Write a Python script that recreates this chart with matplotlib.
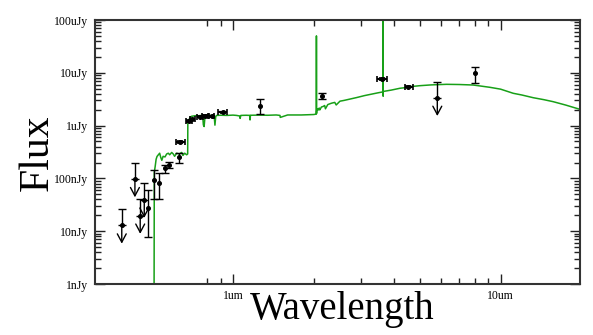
import numpy as np
import matplotlib.pyplot as plt
from matplotlib.ticker import FixedLocator, NullFormatter

plt.rcParams['font.family'] = ['Liberation Serif', 'DejaVu Serif']

# model spectrum (um, nJy)
model_wl = [0.507, 0.508, 0.512, 0.516, 0.520, 0.526, 0.532, 0.537, 0.542, 0.548,
            0.557, 0.565, 0.573, 0.580, 0.590, 0.598, 0.605, 0.616, 0.630, 0.643,
            0.650, 0.660, 0.671, 0.677, 0.678, 0.685, 0.692, 0.700, 0.711, 0.725,
            0.740, 0.755, 0.770, 0.775, 0.780, 0.786, 0.792, 0.810, 0.830, 0.850,
            0.856, 0.862, 0.870, 0.900, 0.950, 1.000, 1.030, 1.060, 1.063, 1.070,
            1.120, 1.155, 1.158, 1.162, 1.250, 1.350, 1.450, 1.498, 1.502, 1.600,
            1.800, 2.000, 2.048, 2.050, 2.052, 2.054, 2.060, 2.075, 2.080, 2.100,
            2.110, 2.140, 2.170, 2.200, 2.215, 2.260, 2.330, 2.400, 2.430, 2.510,
            2.600, 2.900, 3.100, 3.340, 3.500, 3.636, 3.638, 3.640, 3.642, 3.660,
            3.900, 4.210, 4.500, 4.520, 4.600, 4.650, 4.990, 5.500, 6.280, 7.000,
            7.900, 9.120, 10.00, 11.15, 12.00, 13.24, 14.50, 15.71, 17.50, 20.00]
model_fx = [0.5, 130, 170, 230, 260, 280, 300, 250, 220, 262,
            255, 290, 300, 280, 310, 290, 262, 300, 290, 310,
            272, 300, 280, 290, 1180, 1300, 1440, 1500, 1520, 1540,
            1530, 1550, 1560, 1030, 960, 1500, 1560, 1580, 1550, 1560,
            1020, 1500, 1560, 1570, 1560, 1580, 1560, 1520, 1370, 1560,
            1570, 1560, 1280, 1570, 1580, 1570, 1590, 1560, 1430, 1590,
            1590, 1620, 1650, 50000, 1700, 1900, 2050, 2080, 1970, 2150,
            1980, 2250, 2300, 2400, 2080, 2500, 2650, 2750, 2460, 2900,
            3000, 3400, 3700, 4000, 4200, 4350, 200000, 3600, 4400, 4450,
            4700, 5100, 5300, 5000, 5450, 5500, 5700, 5900, 6050, 6000,
            5870, 5310, 4900, 4090, 3800, 3375, 3100, 2840, 2450, 2000]

# photometry with error bars (um, nJy)
det_wl = [0.483, 0.508, 0.531, 0.555, 0.578, 0.628, 1.262, 2.156, 8.02]
det_fx = [28, 93, 83, 154, 183, 249, 2350, 3636, 10050]
det_lo = [7.9, 40, 40, 125, 160, 193, 1637, 3150, 6320]
det_hi = [60, 144, 125, 179, 205, 299, 3150, 4200, 13050]

# photometry with filter widths (um, nJy)
band_wl = [0.634, 0.685, 0.705, 0.753, 0.786, 0.833, 0.920, 3.61, 4.52]
band_fx = [489, 1222, 1316, 1475, 1520, 1500, 1786, 7640, 5460]
band_lo = [0.611, 0.665, 0.690, 0.735, 0.768, 0.815, 0.880, 3.46, 4.39]
band_hi = [0.661, 0.705, 0.722, 0.772, 0.805, 0.852, 0.947, 3.77, 4.69]

# upper limits (um, nJy, top of bar)
ul_wl = [0.384, 0.430, 0.450, 0.466, 5.80]
ul_fx = [12.9, 97.4, 19.8, 39.8, 3374]
ul_top = [26.0, 193, 40, 83, 6790]

ytick_vals = [1, 10, 100, 1e3, 1e4, 1e5]
ytick_labels = ['1nJy', '10nJy', '100nJy', '1uJy', '10uJy', '100uJy']
xtick_vals = [1, 10]
xtick_labels = ['1um', '10um']
xminor = [0.8, 0.9, 2, 3, 4, 5, 6, 7, 8, 9]

fig = plt.figure(figsize=(5.93, 3.35), dpi=100)
ax = fig.add_axes([95/593, 1-284/335, 485/593, 264/335])
ax.set_xscale('log')
ax.set_yscale('log')

ax.plot(model_wl, model_fx, color='#18a018', lw=1.1, zorder=2)

det_wl = np.array(det_wl); det_fx = np.array(det_fx)
yerr = [det_fx - np.array(det_lo), np.array(det_hi) - det_fx]
ax.errorbar(det_wl, det_fx, yerr=yerr, fmt='o', color='black', ms=2.6,
            elinewidth=1.0, capsize=3.2, capthick=1.0, zorder=3)

band_wl = np.array(band_wl)
xerr = [band_wl - np.array(band_lo), np.array(band_hi) - band_wl]
ax.errorbar(band_wl, band_fx, xerr=xerr, yerr=np.array(band_fx)*0.03, fmt='o',
            color='black', ms=2.6, elinewidth=1.6, capsize=2.2, capthick=1.2, zorder=3)

ul_wl = np.array(ul_wl); ul_fx = np.array(ul_fx)
ax.errorbar(ul_wl, ul_fx, yerr=[np.zeros(len(ul_fx)), np.array(ul_top) - ul_fx],
            fmt='o', color='black', ms=2.6, elinewidth=1.0, capsize=3.2, capthick=1.0, zorder=3)
for w, f in zip(ul_wl, ul_fx):
    ax.annotate('', xy=(w, f*0.45), xytext=(w, f),
                arrowprops=dict(arrowstyle='->,head_length=0.6,head_width=0.32',
                                color='black', lw=1.0, shrinkA=0, shrinkB=0))

ax.set_xlim(0.305, 19.8)
ax.set_ylim(1, 1e5)

ax.yaxis.set_major_locator(FixedLocator(ytick_vals))
ax.set_yticklabels(ytick_labels)
ax.xaxis.set_major_locator(FixedLocator(xtick_vals))
ax.set_xticklabels(xtick_labels)
ax.xaxis.set_minor_locator(FixedLocator(xminor))
ax.xaxis.set_minor_formatter(NullFormatter())
ax.yaxis.set_minor_formatter(NullFormatter())

ax.tick_params(which='both', direction='in', top=True, right=True, width=1.0,
               labelsize=8.5, color='#222222')
ax.tick_params(which='major', length=7)
ax.tick_params(which='minor', length=4)
ax.tick_params(axis='y', pad=5)
ax.tick_params(axis='x', pad=4)

for s in ax.spines.values():
    s.set_linewidth(1.5)
    s.set_color('#333333')

fig.text(0.577, 0.075, 'Wavelength', fontsize=28, ha='center', va='center')
fig.text(0.063, 0.545, 'Flux', fontsize=30, ha='center', va='center', rotation=90)

fig.savefig('out.png', dpi=100)
